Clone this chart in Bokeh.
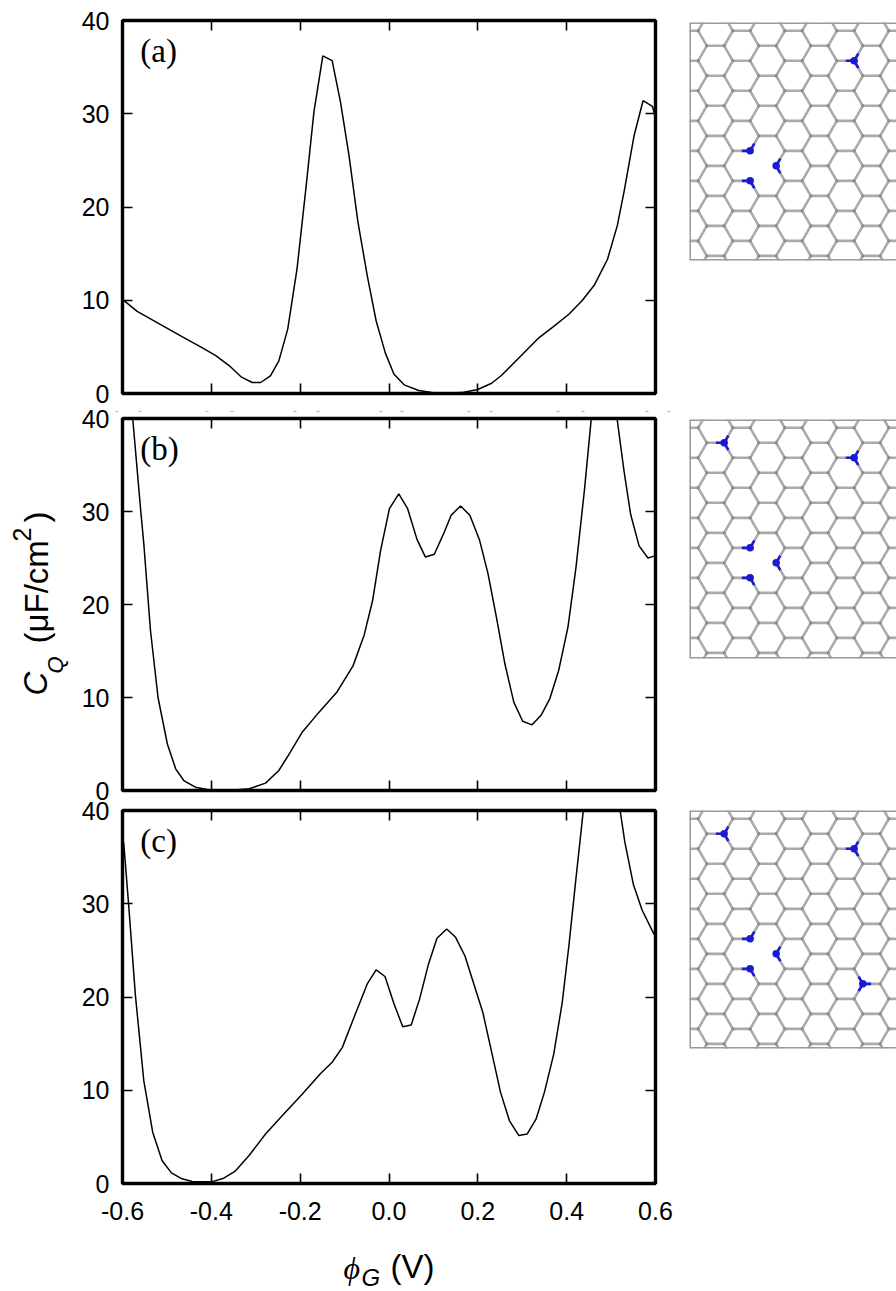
import math
from bokeh.plotting import figure
from bokeh.layouts import column, row
from bokeh.models import Range1d, FixedTicker, LinearAxis, Label
from bokeh.core.properties import value
from bokeh.embed import file_html
from bokeh.resources import INLINE

# ---- data ----
a_phi = [-0.6,-0.567,-0.518,-0.466,-0.42,-0.39,-0.36,-0.332,-0.308,-0.289,-0.267,-0.248,-0.228,-0.207,-0.188,-0.169,-0.149,-0.128,-0.109,-0.09,-0.07,-0.049,-0.029,-0.008,0.011,0.034,0.067,0.1,0.134,0.168,0.2,0.231,0.253,0.29,0.338,0.368,0.405,0.435,0.462,0.492,0.514,0.529,0.552,0.572,0.593,0.6]
a_cq = [10.1,8.8,7.5,6.1,4.9,4.07,3.0,1.75,1.18,1.18,1.9,3.5,6.9,13.4,21.6,30.2,36.2,35.7,31.2,25.5,18.4,12.65,7.8,4.3,2.1,0.93,0.32,0.07,0.0,0.14,0.43,1.1,1.93,3.7,6.0,7.1,8.5,9.97,11.6,14.4,18.0,21.6,27.7,31.4,30.8,29.6]

b_phi = [-0.585,-0.577,-0.559,-0.552,-0.537,-0.52,-0.499,-0.48,-0.462,-0.436,-0.398,-0.36,-0.315,-0.278,-0.248,-0.229,-0.195,-0.158,-0.117,-0.081,-0.056,-0.037,-0.019,0.001,0.022,0.042,0.063,0.082,0.102,0.121,0.14,0.161,0.182,0.204,0.223,0.242,0.261,0.281,0.301,0.322,0.342,0.362,0.382,0.403,0.421,0.44,0.455,0.48,0.5,0.514,0.529,0.544,0.563,0.583,0.597,0.6]
b_cq = [46,40,30.1,26.5,17.2,10,5,2.3,1.07,0.36,0,0,0.18,0.79,2.15,3.6,6.3,8.4,10.6,13.4,16.7,20.4,25.8,30.3,31.9,30.3,27,25.1,25.4,27.4,29.6,30.6,29.6,26.9,23.3,18.6,13.6,9.5,7.45,7.06,8.06,9.86,12.9,17.6,24,32.3,39.8,48,50,39.8,34.4,29.7,26.3,25,25.2,25.2]

c_phi = [-0.6,-0.597,-0.586,-0.571,-0.552,-0.532,-0.511,-0.49,-0.466,-0.443,-0.398,-0.372,-0.347,-0.315,-0.278,-0.24,-0.195,-0.154,-0.128,-0.105,-0.083,-0.049,-0.029,-0.009,0.011,0.031,0.05,0.069,0.089,0.108,0.13,0.15,0.171,0.191,0.211,0.232,0.251,0.271,0.292,0.311,0.331,0.35,0.371,0.39,0.405,0.42,0.437,0.47,0.5,0.521,0.531,0.55,0.57,0.596,0.6]
c_cq = [37,36.4,29.8,20.2,11,5.5,2.47,1.14,0.5,0.21,0.2,0.57,1.29,3,5.3,7.3,9.6,11.8,13,14.6,17.3,21.4,22.9,22.2,19.3,16.8,17,19.8,23.55,26.3,27.3,26.4,24.4,21.4,18.4,13.9,9.8,6.75,5.15,5.3,6.9,9.8,13.9,19.4,25.5,32.3,39.8,50,48,39.8,36.6,32.1,29.3,26.8,26.5]

x_ticks = [-0.6,-0.4,-0.2,0.0,0.2,0.4,0.6]
x_tick_labels = ["-0.6","-0.4","-0.2","0.0","0.2","0.4","0.6"]
y_ticks = [0,10,20,30,40]
panel_tags = ["(a)","(b)","(c)"]

# lattice sites as (column, row, side): side +1 right corner, -1 left corner of a hexagon
vacancy_site = (1, 4, 1)
blue_a = [(6,0,-1),(3,4,-1),(2,3,-1),(2,4,-1)]
blue_b = blue_a + [(1,0,-1)]
blue_c = blue_b + [(5,5,1)]

# faint specks between panels (a) and (b), page x pixel
speck_px = [115,138,205,230,293,316,379,400,467,489,556,581,645,667]

FONT = "Liberation Sans"
SERIF = "Liberation Serif"
TICK_FS = "25px"

def panel(phi, cq, tag, h_frame, top, bottom, with_xlabels, overlap):
    p = figure(width=689, height=h_frame+top+bottom, output_backend="svg", toolbar_location=None,
               x_range=Range1d(-0.6,0.6), y_range=Range1d(0,40), x_axis_type=None, y_axis_type=None,
               min_border_left=122, min_border_right=34, min_border_top=top, min_border_bottom=bottom,
               margin=(-overlap,0,0,0))
    p.grid.visible = False
    p.outline_line_color = "black"
    p.outline_line_width = 3.4
    p.background_fill_color = None
    p.border_fill_color = None
    for loc, tks in (("below",x_ticks),("above",x_ticks),("left",y_ticks),("right",y_ticks)):
        ax = LinearAxis(ticker=FixedTicker(ticks=tks))
        ax.axis_line_color = None
        ax.major_tick_in = 10
        ax.major_tick_out = 0
        ax.major_tick_line_width = 1.6
        ax.major_tick_line_color = "black"
        ax.minor_tick_line_color = None
        ax.major_label_text_font = FONT
        ax.major_label_text_font_size = TICK_FS
        ax.major_label_text_color = "black"
        if loc == "left":
            ax.major_label_standoff = 13
            ax.major_label_overrides = {v: str(v) for v in y_ticks}
        elif loc == "below" and with_xlabels:
            ax.major_label_standoff = 18
            ax.major_label_overrides = dict(zip(x_ticks, x_tick_labels))
        else:
            ax.major_label_overrides = {v: "" for v in tks}
            ax.major_label_standoff = 0
            ax.major_label_text_font_size = "1px"
        p.add_layout(ax, loc)
    p.line(phi, cq, line_color="black", line_width=1.5)
    p.add_layout(Label(x=-0.56, y=36.7, text=tag, text_font=SERIF, text_font_size="33px",
                       text_color="black", text_align="left", text_baseline="middle"))
    return p

pa = panel(a_phi, a_cq, panel_tags[0], 373, 20, 20, False, 0)      # page 0..413, frame 20..393
pb = panel(b_phi, b_cq, panel_tags[1], 372, 20, 20, False, 15)     # page 398..810, frame 418..790
pc = panel(c_phi, c_cq, panel_tags[2], 373, 20, 108, True, 20)     # page 790..1291, frame 810..1183

# ---- lattice ----
S3 = math.sqrt(3)
def center(k, n):
    return 1.5*k, S3*(n - (0.5 if k % 2 else 0))
def site(k, n, side):
    x, y = center(k, n)
    return (round(x+side, 3), round(y, 3))

def all_bonds():
    bonds = set()
    for k in range(-2, 11):
        for n in range(-3, 13):
            x, y = center(k, n)
            pts = [(round(x+math.cos(i*math.pi/3),3), round(y+math.sin(i*math.pi/3),3)) for i in range(6)]
            for i in range(6):
                bonds.add(tuple(sorted((pts[i], pts[(i+1)%6]))))
    return bonds

def close(a, b):
    return abs(a[0]-b[0]) < 0.01 and abs(a[1]-b[1]) < 0.01

def lattice(blue, top, h_frame, bottom, overlap):
    ux = 17.33
    y0 = -(60-21.7)/ux
    p = figure(width=207, height=h_frame+top+bottom, output_backend="svg", toolbar_location=None,
               x_range=Range1d(-1.5, -1.5+207/ux), y_range=Range1d(y0+h_frame/ux, y0),
               x_axis_type=None, y_axis_type=None, min_border_left=0, min_border_right=0,
               min_border_top=top, min_border_bottom=bottom, margin=(-overlap,0,0,0))
    p.grid.visible = False
    p.outline_line_color = None
    p.border_fill_color = None
    p.background_fill_color = None
    vac = site(*vacancy_site)
    bonds = [b for b in all_bonds() if not close(b[0], vac) and not close(b[1], vac)]
    p.segment([b[0][0] for b in bonds], [b[0][1] for b in bonds], [b[1][0] for b in bonds], [b[1][1] for b in bonds],
              line_color="#aaaaaa", line_width=2.6)
    nodes = {pt for b in bonds for pt in b}
    p.scatter([n[0] for n in nodes], [n[1] for n in nodes], size=3.4, color="#8e8e8e", line_color=None)
    bl = [site(*s) for s in blue]
    sx0, sy0, sx1, sy1 = [], [], [], []
    for atom in bl:
        for b in bonds:
            for i in (0, 1):
                if close(b[i], atom):
                    o = b[1-i]
                    sx0.append(atom[0]); sy0.append(atom[1])
                    sx1.append(atom[0]+0.48*(o[0]-atom[0])); sy1.append(atom[1]+0.48*(o[1]-atom[1]))
    p.segment(sx0, sy0, sx1, sy1, line_color="#1c1cd0", line_width=2.6)
    p.scatter([a[0] for a in bl], [a[1] for a in bl], size=7.5, color="#1a1ad2", line_color=None)
    xl, xr, yt, yb = -1.5, -1.5+207/ux, y0, y0+h_frame/ux
    p.segment([xl, xl, xl], [yt, yb, yt], [xr, xr, xl], [yt, yb, yb], line_color="#9a9a9a", line_width=3)
    return p

la = lattice(blue_a, 22, 238, 153, 0)     # page 0..413
lb = lattice(blue_b, 21, 239, 152, 15)    # page 398..810
lc = lattice(blue_c, 20, 238, 243, 20)    # page 790..1291

# ---- overlay in page pixels: axis titles and specks ----
ov = figure(width=896, height=1291, output_backend="svg", toolbar_location=None,
            x_range=Range1d(0,896), y_range=Range1d(1291,0), x_axis_type=None, y_axis_type=None,
            min_border_left=0, min_border_right=0, min_border_top=0, min_border_bottom=0,
            margin=(-1291,0,0,0))
ov.grid.visible = False
ov.outline_line_color = None
ov.background_fill_color = None
ov.border_fill_color = None

def t(txt, x, y, size, font=FONT, style="normal", angle=0.0):
    ov.text([x], [y], text=[txt], text_font=value(font), text_font_size=value(size), text_font_style=style,
            text_color="black", angle=angle, text_align="left", text_baseline="middle")

v = math.pi/2
t("C", 35, 695, "33px", style="italic", angle=v)
t("Q", 55, 673, "22px", style="italic", angle=v)
t("(\u03bcF/cm", 36, 643, "33px", angle=v)
t("2", 21, 541, "25px", angle=v)
t(")", 36, 522, "33px", angle=v)
t("\u03d5", 343, 1267, "32px", font=SERIF, style="italic")
t("G", 361, 1277, "24px", style="italic")
t("(V)", 390, 1266, "33px")
ov.segment(speck_px, [411]*len(speck_px), [s+3 for s in speck_px], [411]*len(speck_px), line_color="#b4b4b4", line_width=1.2)

main = row(column(pa, pb, pc, spacing=0), column(la, lb, lc, spacing=0), spacing=0)
page = column(main, ov, spacing=0)
open("out.html", "w").write(file_html(page, INLINE))
